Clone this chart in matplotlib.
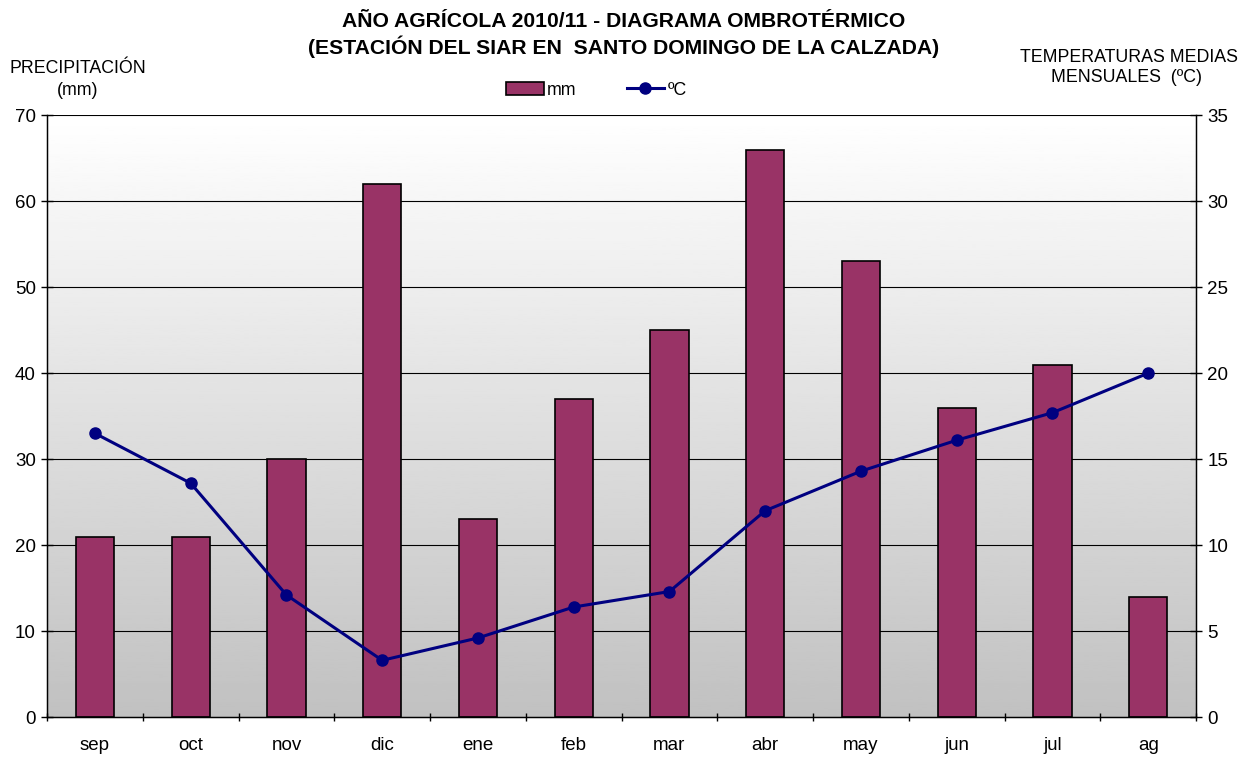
import numpy as np
import matplotlib.pyplot as plt

# DATA
meses = ['sep', 'oct', 'nov', 'dic', 'ene', 'feb', 'mar', 'abr', 'may', 'jun', 'jul', 'ag']
mm    = [21, 21, 30, 62, 23, 37, 45, 66, 53, 36, 41, 14]
tmed  = [16.5, 13.6, 7.1, 3.3, 4.6, 6.4, 7.3, 12.0, 14.3, 16.1, 17.7, 20.0]

plt.rcParams.update({
  'font.family': ['Liberation Sans', 'DejaVu Sans'],
  'font.size':   12.8,
})
tksize = 13.5

fig = plt.figure(figsize=(12.48, 7.58), dpi=100)
ax = fig.add_axes([0.0377, 0.054, 0.9207, 0.794])
x = np.arange(len(meses))

# gradient background (white at top -> grey at bottom)
grad = np.linspace(1.0, 0.0, 256).reshape(-1, 1)
ax.imshow(grad, extent=[0, 1, 0, 1], transform=ax.transAxes, aspect='auto',
          cmap='gray', vmin=-3.1, vmax=1.0, zorder=0)

ax.set_xlim(-0.5, len(meses)-0.5)
ax.set_ylim(0, 70)
ax.set_yticks(range(0, 71, 10))
for y in range(10, 71, 10):
  ax.axhline(y, color='black', lw=0.8, zorder=1)
bars = ax.bar(x, mm, width=0.4, color='#993366', edgecolor='black', lw=1.2, zorder=2, label='mm')

ax.set_xticks(x)
ax.set_xticklabels(meses)
ax.set_xticks(np.arange(-0.5, len(meses), 1), minor=True)
ax.tick_params(axis='x', which='major', length=0, pad=14, labelsize=tksize)
ax.tick_params(axis='x', which='minor', length=6, direction='inout', width=1)
ax.tick_params(axis='y', direction='inout', length=8, width=1, labelsize=tksize, pad=4)
ax.spines['top'].set_visible(False)
for s in ('left', 'right', 'bottom'):
  ax.spines[s].set_linewidth(1.0)

ax2 = ax.twinx()
ax2.set_ylim(0, 35)
ax2.set_yticks(range(0, 36, 5))
ax2.tick_params(axis='y', direction='inout', length=8, width=1, labelsize=tksize, pad=4)
ax2.spines['top'].set_visible(False)
line, = ax2.plot(x, tmed, color='#000080', lw=2.2, marker='o', markersize=8, label='ºC', zorder=3)

# titles
fig.text(0.5, 0.972, "AÑO AGRÍCOLA 2010/11 - DIAGRAMA OMBROTÉRMICO", ha='center', va='center',
         fontsize=15.2, fontweight='bold')
fig.text(0.5, 0.938, "(ESTACIÓN DEL SIAR EN  SANTO DOMINGO DE LA CALZADA)", ha='center', va='center',
         fontsize=15.2, fontweight='bold')
fig.text(0.0625, 0.910, "PRECIPITACIÓN", ha='center', va='center')
fig.text(0.0625, 0.880, "(mm)", ha='center', va='center')
fig.text(0.905, 0.924, "TEMPERATURAS MEDIAS", ha='center', va='center')
fig.text(0.963, 0.898, "MENSUALES  (ºC)", ha='right', va='center')

fig.legend(handles=[bars, line], labels=['mm', 'ºC'], loc='center', bbox_to_anchor=(0.478, 0.881),
           ncol=2, frameon=False, handlelength=2.1, handletextpad=0.2, columnspacing=2.8)

plt.savefig('out.png', dpi=100)
